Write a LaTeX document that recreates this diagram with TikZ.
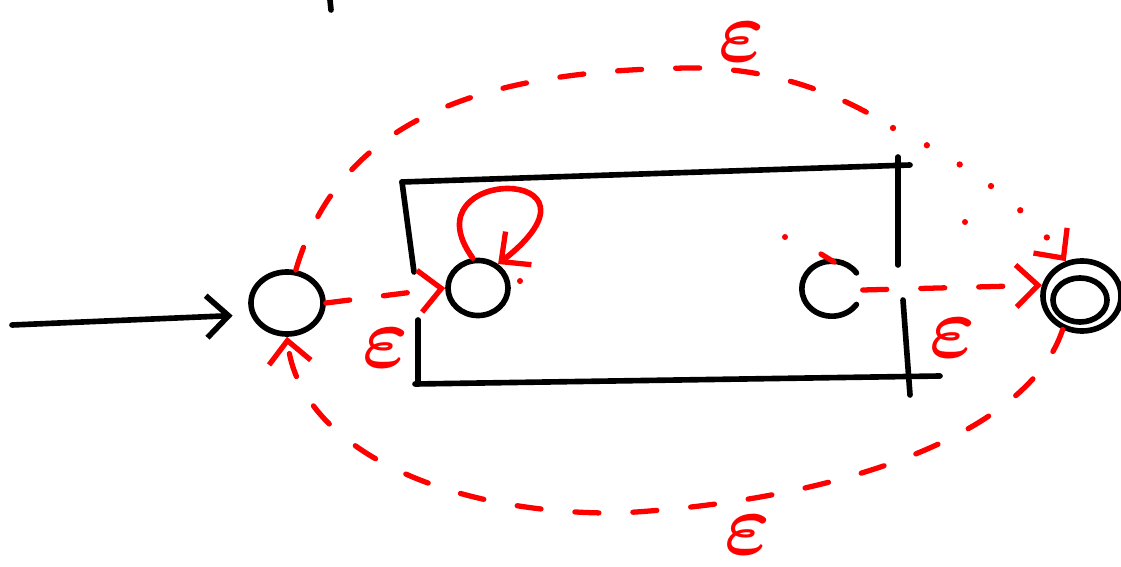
\documentclass[tikz,border=0pt]{standalone}
\usepackage{amsmath,amssymb,xcolor,tikz}
\usetikzlibrary{arrows.meta,positioning,shapes.geometric,calc}

\begin{document}
\begin{tikzpicture}[x=0.01cm,y=-0.01cm,line cap=round,line join=round,
  st/.style={draw,ellipse,line width=1.6pt,inner sep=0pt},
  pen/.style={line width=1.6pt},
  eps/.style={red,line width=1.5pt,dash pattern=on 2.4mm off 3.4mm},
  dots/.style={red,line width=1.8pt,dash pattern=on 0pt off 3.8mm},
  tip/.style={-{Straight Barb[length=2.2mm,width=4.2mm,line width=1.5pt]}},
  lbl/.style={red,inner sep=0pt,font=\fontsize{25}{25}\selectfont}]
\useasboundingbox (0,0) rectangle (1121,567);
% states
\node[st,minimum width=0.72cm,minimum height=0.62cm] (q0) at (287,303) {};
\node[st,minimum width=0.6cm,minimum height=0.55cm] (q1) at (478,288) {};
\node[ellipse,inner sep=0pt,minimum width=0.6cm,minimum height=0.55cm] (q2) at (832,290) {};
\draw[pen] (q2.35) arc[start angle=35,end angle=325,x radius=0.3cm,y radius=0.275cm];
\node[st,minimum width=0.78cm,minimum height=0.7cm] (q3) at (1082,296) {};
\node[st,minimum width=0.54cm,minimum height=0.44cm] (q3in) at (1080,300) {};
% box of the inner automaton
\draw[pen] (402,182) -- (910,165);
\draw[pen] (402,182) -- (414,272);
\draw[pen] (418,320) -- (418,382);
\draw[pen] (415,384) -- (940,376);
\draw[pen] (898,157) -- (898,265);
\draw[pen] (903,300) -- (910,395);
\draw[pen] (330,0) -- (331,10);
% start
\coordinate (start) at (12,325);
\draw[pen,-{Straight Barb[length=2.2mm,width=4.2mm,line width=1.6pt]},shorten >=0.18cm] (start) -- (q0.198);
% epsilon moves
\draw[eps,tip] (q0.east) -- node[lbl,below=0.3cm]{$\boldsymbol\varepsilon$} (q1.west);
\draw[eps,tip] (q2.east) -- node[lbl,below=0.28cm]{$\boldsymbol\varepsilon$} (q3.165);
\draw[red,line width=1.6pt,tip] (q1.100) .. controls (405,165) and (625,165) .. (q1.50);
\coordinate (topturn) at (893,128);
\draw[eps] (q0.75) .. controls (340,120) and (480,70) .. (690,68)
  .. controls (780,67) and (850,100) .. (topturn);
\draw[dots,tip] (topturn) .. controls (960,160) and (1020,200) .. (q3.115);
\node[lbl] (etop) at (742,42) {$\boldsymbol\varepsilon$};
\draw[eps,tip] (q3.240) .. controls (1030,430) and (850,500) .. (620,513)
  .. controls (450,515) and (300,450) .. (q0.south);
\node[lbl] (ebot) at (748,535) {$\boldsymbol\varepsilon$};
% stray marks
\fill[red] (785,237) circle (0.03cm) (965,222) circle (0.03cm) (520,281) circle (0.03cm);
\draw[red,line width=1.5pt] (821,254) -- (834,262);
\end{tikzpicture}
\end{document}
